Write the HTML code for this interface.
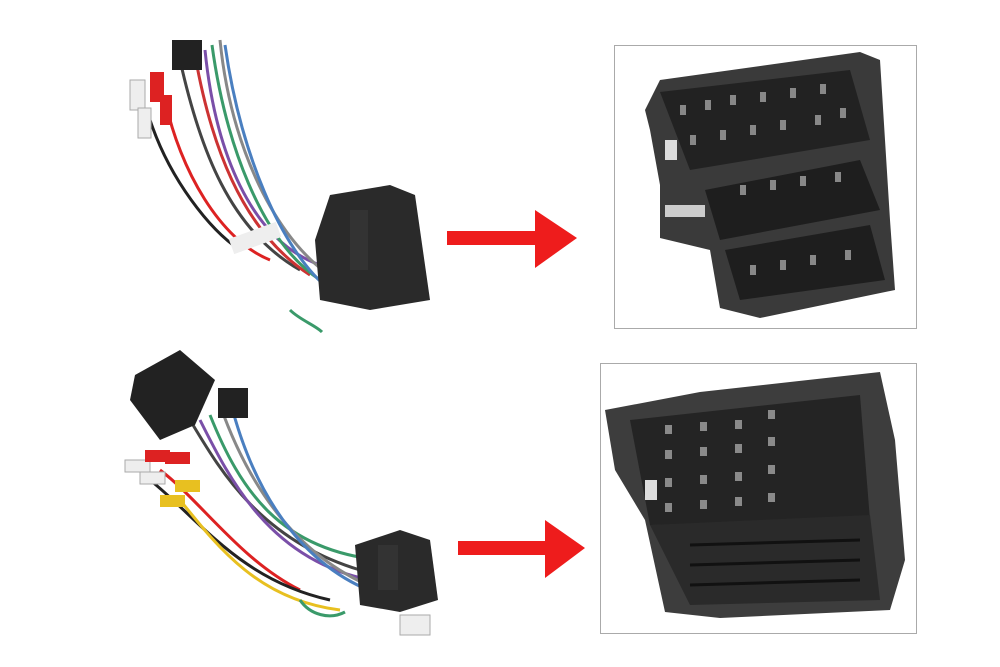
<!DOCTYPE html>
<html><head><meta charset="utf-8"><style>
html,body{margin:0;padding:0;background:#fff;width:1000px;height:667px;overflow:hidden}
</style></head><body>
<svg width="1000" height="667" viewBox="0 0 1000 667" xmlns="http://www.w3.org/2000/svg">
<rect width="1000" height="667" fill="#fff"/>
<!-- arrows -->
<polygon points="447,231 535,231 535,210 577,238 535,268 535,245 447,245" fill="#ee1c1c"/>
<polygon points="458,541 545,541 545,520 585,548 545,578 545,555 458,555" fill="#ee1c1c"/>
<!-- boxes -->
<rect x="614.5" y="45.5" width="302" height="283" fill="#fff" stroke="#aaa"/>
<rect x="600.5" y="363.5" width="316" height="270" fill="#fff" stroke="#aaa"/>
<!-- top connector photo -->
<g>
<polygon points="645,110 660,80 860,52 880,60 885,140 890,220 895,290 760,318 720,308 710,250 660,238 660,185 650,130" fill="#3a3a3a"/>
<polygon points="660,92 850,70 870,140 690,170" fill="#222"/>
<polygon points="705,190 860,160 880,210 720,240" fill="#1e1e1e"/>
<polygon points="725,250 870,225 885,280 740,300" fill="#1e1e1e"/>
<g fill="#888">
<rect x="680" y="105" width="6" height="10"/><rect x="705" y="100" width="6" height="10"/><rect x="730" y="95" width="6" height="10"/><rect x="760" y="92" width="6" height="10"/><rect x="790" y="88" width="6" height="10"/><rect x="820" y="84" width="6" height="10"/>
<rect x="690" y="135" width="6" height="10"/><rect x="720" y="130" width="6" height="10"/><rect x="750" y="125" width="6" height="10"/><rect x="780" y="120" width="6" height="10"/><rect x="815" y="115" width="6" height="10"/><rect x="840" y="108" width="6" height="10"/>
<rect x="740" y="185" width="6" height="10"/><rect x="770" y="180" width="6" height="10"/><rect x="800" y="176" width="6" height="10"/><rect x="835" y="172" width="6" height="10"/>
<rect x="750" y="265" width="6" height="10"/><rect x="780" y="260" width="6" height="10"/><rect x="810" y="255" width="6" height="10"/><rect x="845" y="250" width="6" height="10"/>
</g>
<rect x="665" y="140" width="12" height="20" fill="#ddd"/>
<rect x="665" y="205" width="40" height="12" fill="#ccc"/>
</g>
<!-- bottom connector photo -->
<g>
<polygon points="605,410 700,392 880,372 895,440 905,560 890,610 720,618 665,612 645,520 615,470" fill="#3d3d3d"/>
<polygon points="630,420 860,395 870,520 650,525" fill="#242424"/>
<polygon points="650,525 870,515 880,600 690,605" fill="#2a2a2a"/>
<g fill="#8a8a8a">
<rect x="665" y="425" width="7" height="9"/><rect x="700" y="422" width="7" height="9"/><rect x="735" y="420" width="7" height="9"/><rect x="768" y="410" width="7" height="9"/>
<rect x="665" y="450" width="7" height="9"/><rect x="700" y="447" width="7" height="9"/><rect x="735" y="444" width="7" height="9"/><rect x="768" y="437" width="7" height="9"/>
<rect x="665" y="478" width="7" height="9"/><rect x="700" y="475" width="7" height="9"/><rect x="735" y="472" width="7" height="9"/><rect x="768" y="465" width="7" height="9"/>
<rect x="665" y="503" width="7" height="9"/><rect x="700" y="500" width="7" height="9"/><rect x="735" y="497" width="7" height="9"/><rect x="768" y="493" width="7" height="9"/>
</g>
<g stroke="#111" stroke-width="3"><line x1="690" y1="545" x2="860" y2="540"/><line x1="690" y1="565" x2="860" y2="560"/><line x1="690" y1="585" x2="860" y2="580"/></g>
<rect x="645" y="480" width="12" height="20" fill="#ddd"/>
</g>
<!-- top harness -->
<g fill="none" stroke-width="3">
<path d="M180,60 C200,150 230,230 300,270" stroke="#444"/>
<path d="M195,55 C210,140 240,230 310,275" stroke="#c33"/>
<path d="M205,50 C215,150 250,240 320,265" stroke="#7a4fa8"/>
<path d="M212,45 C225,140 260,240 320,280" stroke="#3a9a6a"/>
<path d="M220,40 C230,140 270,230 325,272" stroke="#888"/>
<path d="M225,45 C240,150 280,250 330,290" stroke="#4a7fc0"/>
<path d="M150,120 C170,180 210,230 240,250" stroke="#222"/>
<path d="M165,100 C180,170 220,240 270,260" stroke="#d22"/>
<path d="M290,310 C300,320 315,325 322,332" stroke="#3a9a6a"/>
</g>
<rect x="172" y="40" width="30" height="30" fill="#222"/>
<rect x="130" y="80" width="15" height="30" fill="#eee" stroke="#aaa"/>
<rect x="150" y="72" width="14" height="30" fill="#d22"/>
<rect x="160" y="95" width="12" height="30" fill="#d22"/>
<rect x="138" y="108" width="13" height="30" fill="#eee" stroke="#aaa"/>
<polygon points="330,195 390,185 415,195 430,300 370,310 320,300 315,240" fill="#2a2a2a"/>
<rect x="350" y="210" width="18" height="60" fill="#333"/>
<rect x="230" y="230" width="50" height="16" fill="#eee" transform="rotate(-20 255 238)"/>
<!-- bottom harness -->
<g fill="none" stroke-width="3">
<path d="M190,420 C220,470 260,540 360,570" stroke="#444"/>
<path d="M200,420 C230,480 270,560 370,580" stroke="#7a4fa8"/>
<path d="M210,415 C240,490 280,550 380,560" stroke="#3a9a6a"/>
<path d="M220,405 C250,490 300,560 380,590" stroke="#888"/>
<path d="M230,400 C255,500 310,580 400,600" stroke="#4a7fc0"/>
<path d="M160,470 C200,500 240,560 300,590" stroke="#d22"/>
<path d="M150,480 C200,520 240,580 330,600" stroke="#222"/>
<path d="M180,500 C220,550 260,600 340,610" stroke="#e8c020"/>
<path d="M300,600 C310,615 330,620 345,612" stroke="#3a9a6a"/>
</g>
<polygon points="135,375 180,350 215,380 195,425 160,440 130,400" fill="#222"/>
<rect x="218" y="388" width="30" height="30" fill="#222"/>
<g>
<rect x="125" y="460" width="25" height="12" fill="#eee" stroke="#aaa"/><rect x="145" y="450" width="25" height="12" fill="#d22"/>
<rect x="165" y="452" width="25" height="12" fill="#d22"/><rect x="175" y="480" width="25" height="12" fill="#e8c020"/>
<rect x="160" y="495" width="25" height="12" fill="#e8c020"/><rect x="140" y="472" width="25" height="12" fill="#eee" stroke="#aaa"/>
</g>
<polygon points="355,545 400,530 430,540 438,600 400,612 360,605" fill="#2a2a2a"/>
<rect x="378" y="545" width="20" height="45" fill="#333"/>
<rect x="400" y="615" width="30" height="20" fill="#eee" stroke="#aaa"/>
</svg>
</body></html>
